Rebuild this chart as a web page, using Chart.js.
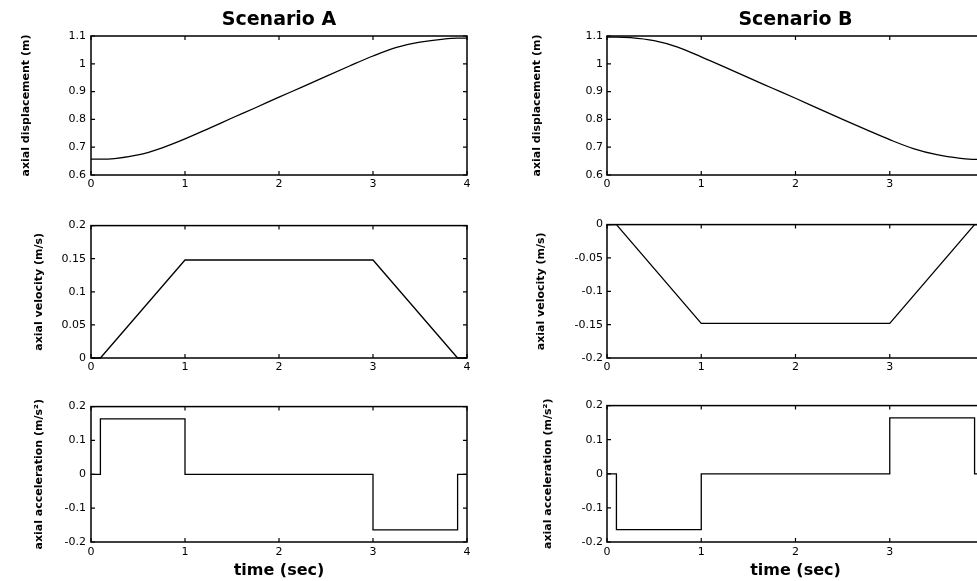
<!DOCTYPE html>
<html><head><meta charset="utf-8">
<script src="https://cdn.jsdelivr.net/npm/chart.js@4.4.1/dist/chart.umd.min.js"></script>
<style>
html,body{margin:0;padding:0;background:#fff;overflow:hidden;width:977px;height:581px;position:relative;}
.c{position:absolute;}
</style></head><body>
<div class="c" style="left:0;top:0"><canvas id="a1"></canvas></div>
<div class="c" style="left:0;top:214px"><canvas id="a2"></canvas></div>
<div class="c" style="left:0;top:395px"><canvas id="a3"></canvas></div>
<div class="c" style="left:500px;top:0"><canvas id="b1"></canvas></div>
<div class="c" style="left:500px;top:214px"><canvas id="b2"></canvas></div>
<div class="c" style="left:500px;top:395px"><canvas id="b3"></canvas></div>
<script>
// ---- data ----
const titles = ['Scenario A', 'Scenario B'];
const yTitles = ['axial displacement (m)', 'axial velocity (m/s)', 'axial acceleration (m/s\u00B2)'];
const xTitle = 'time (sec)';

const timeDisp = [0, 0.1, 0.25, 0.5, 0.75, 1, 1.25, 1.5, 1.75, 2, 2.25, 2.5, 2.75, 3, 3.25, 3.5, 3.75, 3.9, 4];
const dispA = [0.657, 0.657, 0.659, 0.672, 0.697, 0.730, 0.767, 0.805, 0.842, 0.880, 0.917, 0.955, 0.992, 1.028, 1.059, 1.078, 1.089, 1.092, 1.092];
const dispB = [1.096, 1.096, 1.094, 1.083, 1.060, 1.025, 0.988, 0.950, 0.913, 0.876, 0.838, 0.800, 0.763, 0.727, 0.695, 0.673, 0.660, 0.656, 0.656];

const timeProfile = [0, 0.1, 1, 3, 3.9, 4];
const velA = [0, 0, 0.148, 0.148, 0, 0];
const velB = [0, 0, -0.148, -0.148, 0, 0];
const accA = [0, 0.164, 0, -0.164, 0, 0];
const accB = [0, -0.164, 0, 0.164, 0, 0];

const xTicks = [0, 1, 2, 3, 4];
const dispTicks = [0.6, 0.7, 0.8, 0.9, 1.0, 1.1];
const velTicksA = [0, 0.05, 0.1, 0.15, 0.2];
const velTicksB = [-0.2, -0.15, -0.1, -0.05, 0];
const accTicks = [-0.2, -0.1, 0, 0.1, 0.2];

// ---- drawing ----
const boxPlugin = {
  id: 'box',
  afterDraw(chart) {
    const {ctx, chartArea: a, scales: {x, y}} = chart;
    ctx.save();
    ctx.strokeStyle = '#000';
    ctx.lineWidth = 1.5;
    ctx.strokeRect(a.left, a.top, a.right - a.left, a.bottom - a.top);
    ctx.lineWidth = 1.2;
    ctx.beginPath();
    const L = 4;
    x.ticks.forEach(t => {
      const p = x.getPixelForValue(t.value);
      ctx.moveTo(p, a.bottom); ctx.lineTo(p, a.bottom - L);
      ctx.moveTo(p, a.top); ctx.lineTo(p, a.top + L);
    });
    y.ticks.forEach(t => {
      const p = y.getPixelForValue(t.value);
      ctx.moveTo(a.left, p); ctx.lineTo(a.left + L, p);
      ctx.moveTo(a.right, p); ctx.lineTo(a.right - L, p);
    });
    ctx.stroke();
    ctx.restore();
  }
};

const fmt = v => String(Number(Number(v).toFixed(3)));

function makeChart(o) {
  const cv = document.getElementById(o.id);
  cv.width = o.width; cv.height = o.height;
  cv.style.width = o.width + 'px'; cv.style.height = o.height + 'px';
  const titleFontSize = 11;
  const yTitlePad = o.yTitleCenter - titleFontSize * 1.2 / 2;
  new Chart(cv, {
    type: 'scatter',
    data: {
      datasets: [{
        data: o.xs.map((x, i) => ({x: x, y: o.ys[i]})),
        showLine: true,
        borderColor: '#000',
        backgroundColor: '#000',
        borderWidth: 1.3,
        pointRadius: 0,
        stepped: o.stepped ? 'before' : false,
        tension: o.smooth ? 0.4 : 0,
        cubicInterpolationMode: o.smooth ? 'monotone' : 'default',
        clip: false
      }]
    },
    options: {
      responsive: false,
      animation: false,
      events: [],
      layout: {padding: {top: o.padTop, right: o.padRight, left: 0, bottom: 0}},
      plugins: {
        legend: {display: false},
        tooltip: {enabled: false},
        title: o.title ? {
          display: true, text: o.title, fullSize: false, color: '#000',
          font: {family: 'DejaVu Sans', weight: 'bold', size: 19},
          padding: {top: 9, bottom: 4.2}
        } : {display: false}
      },
      scales: {
        x: {
          type: 'linear', min: 0, max: 4,
          afterBuildTicks: s => { s.ticks = xTicks.map(v => ({value: v})); },
          afterFit: s => { s.height = o.xHeight; },
          grid: {display: false, drawTicks: false},
          border: {display: false},
          ticks: {color: '#000', padding: o.xTickPad, maxRotation: 0,
                  font: {family: 'DejaVu Sans', size: o.tickSize}, callback: fmt},
          title: o.xTitle ? {display: true, text: o.xTitle, color: '#000',
                  font: {family: 'DejaVu Sans', weight: 'bold', size: 16},
                  padding: {top: 0, bottom: 1}} : {display: false}
        },
        y: {
          type: 'linear', min: o.yMin, max: o.yMax,
          afterBuildTicks: s => { s.ticks = o.yTicks.map(v => ({value: v})); },
          afterFit: s => { s.width = o.yWidth; },
          grid: {display: false, drawTicks: false},
          border: {display: false},
          ticks: {color: '#000', padding: o.yTickPad,
                  font: {family: 'DejaVu Sans', size: o.tickSize}, callback: fmt},
          title: {display: true, text: o.yTitle, color: '#000',
                  font: {family: 'DejaVu Sans', weight: 'bold', size: titleFontSize},
                  padding: {top: yTitlePad, bottom: 0}}
        }
      }
    },
    plugins: [boxPlugin]
  });
}

const colA = {width: 480, padRight: 13, yWidth: 91, yTickPad: 5, tickSize: 11};
const colB = {width: 500, padRight: 16, yWidth: 107, yTickPad: 4, tickSize: 11};
const row1 = {height: 197, padTop: 0, xHeight: 22, xTickPad: 3};
const row2 = {height: 166, padTop: 8, xHeight: 22, xTickPad: 3};
const row3 = {height: 186, padTop: 8, xHeight: 39, xTickPad: 4};

makeChart(Object.assign({id: 'a1', xs: timeDisp, ys: dispA, smooth: true, yMin: 0.6, yMax: 1.1, yTicks: dispTicks,
  yTitle: yTitles[0], yTitleCenter: 26, title: titles[0]}, colA, row1));
makeChart(Object.assign({id: 'a2', xs: timeProfile, ys: velA, yMin: 0, yMax: 0.2, yTicks: velTicksA,
  yTitle: yTitles[1], yTitleCenter: 39}, colA, row2));
makeChart(Object.assign({id: 'a3', xs: timeProfile, ys: accA, stepped: true, yMin: -0.2, yMax: 0.2, yTicks: accTicks,
  yTitle: yTitles[2], yTitleCenter: 39, xTitle: xTitle}, colA, row3));

makeChart(Object.assign({id: 'b1', xs: timeDisp, ys: dispB, smooth: true, yMin: 0.6, yMax: 1.1, yTicks: dispTicks,
  yTitle: yTitles[0], yTitleCenter: 37, title: titles[1]}, colB, row1));
makeChart(Object.assign({id: 'b2', xs: timeProfile, ys: velB, yMin: -0.2, yMax: 0, yTicks: velTicksB,
  yTitle: yTitles[1], yTitleCenter: 41}, colB, row2));
makeChart(Object.assign({id: 'b3', xs: timeProfile, ys: accB, stepped: true, yMin: -0.2, yMax: 0.2, yTicks: accTicks,
  yTitle: yTitles[2], yTitleCenter: 48, xTitle: xTitle}, colB, row3));
</script>
</body></html>
